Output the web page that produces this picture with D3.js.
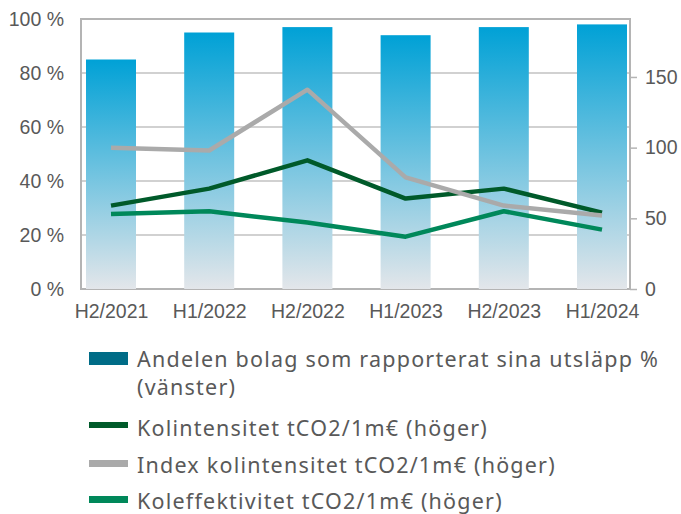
<!DOCTYPE html>
<html>
<head>
<meta charset="utf-8">
<script src="https://cdn.jsdelivr.net/npm/d3@7"></script>
<style>
  html, body { margin: 0; padding: 0; background: #fff; }
  svg { display: block; }
</style>
</head>
<body>
<svg id="chart" width="681" height="514"></svg>
<script>
// ---- data ----
const categories = ["H2/2021", "H1/2022", "H2/2022", "H1/2023", "H2/2023", "H1/2024"];
const andelRapporterat = [85, 95, 97, 94, 97, 98];          // left axis, %
const kolintensitet = [59, 71, 91, 64, 71, 54];             // right axis
const indexKolintensitet = [100, 98, 141, 79, 59, 52];      // right axis
const koleffektivitet = [53, 55, 47, 37, 55, 42];           // right axis
const leftTicks = [0, 20, 40, 60, 80, 100];
const rightTicks = [0, 50, 100, 150];
const legendLabels = [
  ["Andelen bolag som rapporterat sina utsläpp %", "(vänster)"],
  ["Kolintensitet tCO2/1m€ (höger)"],
  ["Index kolintensitet tCO2/1m€ (höger)"],
  ["Koleffektivitet tCO2/1m€ (höger)"]
];

// ---- layout ----
const plot = { left: 81, right: 630, top: 19, bottom: 289 };
const svg = d3.select("#chart");
const tickFont = "'Liberation Sans', Arial, sans-serif";
const legendFont = "'Noto Sans', sans-serif";
const textColor = "#595959";
const frameColor = "#b4b4b4";
const gridColor = "#c2c2c2";

const x = d3.scalePoint().domain(categories).range([111, 602]);
const yL = d3.scaleLinear().domain([0, 100]).range([plot.bottom, plot.top]);
const yR = d3.scaleLinear().domain([0, 191]).range([plot.bottom, plot.top]);
const barW = 50;

// gradient
const defs = svg.append("defs");
const grad = defs.append("linearGradient").attr("id", "barGrad")
  .attr("x1", 0).attr("y1", 0).attr("x2", 0).attr("y2", 1);
grad.append("stop").attr("offset", "0%").attr("stop-color", "#00a1d6");
grad.append("stop").attr("offset", "100%").attr("stop-color", "#e3e6ea");

// gridlines
svg.append("g").selectAll("line").data(leftTicks.filter(d => d > 0 && d < 100)).join("line")
  .attr("x1", plot.left).attr("x2", plot.right)
  .attr("y1", d => yL(d)).attr("y2", d => yL(d))
  .attr("stroke", gridColor).attr("stroke-width", 1.5);

// frame
svg.append("rect")
  .attr("x", plot.left).attr("y", plot.top)
  .attr("width", plot.right - plot.left).attr("height", plot.bottom - plot.top)
  .attr("fill", "none").attr("stroke", frameColor).attr("stroke-width", 2);

// bars
svg.append("g").selectAll("rect").data(andelRapporterat).join("rect")
  .attr("x", (d, i) => x(categories[i]) - barW / 2)
  .attr("width", barW)
  .attr("y", d => yL(d))
  .attr("height", d => yL(0) - yL(d))
  .attr("fill", "url(#barGrad)");

// left axis labels
const leftAxis = d3.axisLeft(yL).tickValues(leftTicks).tickFormat(d => d + " %").tickSize(0).tickPadding(17);
const gL = svg.append("g").attr("transform", `translate(${plot.left},0)`).call(leftAxis);
gL.select(".domain").remove();
gL.selectAll("text").attr("font-family", tickFont).attr("font-size", 19.5).attr("fill", textColor);

// right axis
const rightAxis = d3.axisRight(yR).tickValues(rightTicks).tickFormat(d3.format("d")).tickSize(7).tickPadding(8);
const gR = svg.append("g").attr("transform", `translate(${plot.right},0)`).call(rightAxis);
gR.select(".domain").remove();
gR.selectAll("line").attr("stroke", frameColor).attr("stroke-width", 1.5);
gR.selectAll("text").attr("font-family", tickFont).attr("font-size", 19.5).attr("fill", textColor);

// bottom axis labels
const bottomAxis = d3.axisBottom(x).tickSize(0).tickPadding(15);
const gB = svg.append("g").attr("transform", `translate(0,${plot.bottom})`).call(bottomAxis);
gB.select(".domain").remove();
gB.selectAll("text").attr("font-family", tickFont).attr("font-size", 19.5).attr("fill", textColor);

// lines
const lineSeries = [
  { values: kolintensitet, color: "#005a2a" },
  { values: indexKolintensitet, color: "#aaaaaa" },
  { values: koleffektivitet, color: "#00885a" }
];
const line = d3.line().x((d, i) => x(categories[i])).y(d => yR(d));
svg.append("g").selectAll("path").data(lineSeries).join("path")
  .attr("d", s => line(s.values))
  .attr("fill", "none").attr("stroke", s => s.color)
  .attr("stroke-width", 4.5).attr("stroke-linejoin", "round");

// legend
const legendItems = [
  { color: "#006c87", h: 13, y: 352, lines: legendLabels[0], base: 367 },
  { color: "#005a2a", h: 6, y: 422, lines: legendLabels[1], base: 436 },
  { color: "#aaaaaa", h: 7, y: 460, lines: legendLabels[2], base: 473 },
  { color: "#00885a", h: 7, y: 496, lines: legendLabels[3], base: 509 }
];
const lg = svg.append("g");
const texts = [];
legendItems.forEach(it => {
  lg.append("rect").attr("x", 89).attr("y", it.y).attr("width", 39).attr("height", it.h).attr("fill", it.color);
  it.lines.forEach((t, j) => {
    texts.push(lg.append("text").attr("x", 137).attr("y", it.base + j * 28)
      .attr("font-family", legendFont).attr("font-size", 21.5).attr("fill", textColor)
      .text(t));
  });
});
// widen letter spacing so the first legend line spans like the reference
const first = texts[0];
const w = first.node().getComputedTextLength();
const n = legendLabels[0][0].length;
const ls = Math.max(0, (521 - w) / (n - 1));
texts.forEach(t => t.attr("letter-spacing", ls.toFixed(2)));
</script>
</body>
</html>
